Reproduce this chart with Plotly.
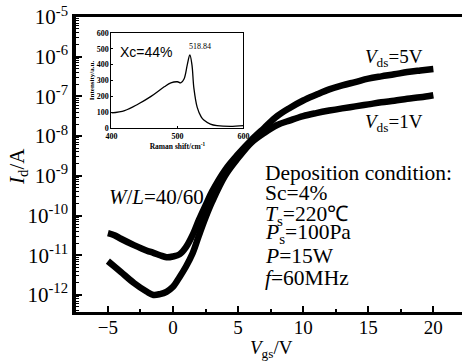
import plotly.graph_objects as go

# Transfer characteristics (Vgs in V, Id in A)
vgs = [-5, -4.5, -4, -3, -2, -1.5, -1, -0.5, 0, 0.5, 1, 1.5, 2, 2.5, 3, 4, 5, 6, 7, 8, 9, 10,
       11, 12, 13, 14, 15, 16, 17, 18, 19, 20]
id_5v = [3.6e-11, 3.2e-11, 2.6e-11, 1.8e-11, 1.3e-11, 1.15e-11, 1.0e-11, 8.9e-12, 9.3e-12, 1.05e-11,
         1.6e-11, 3.2e-11, 7.9e-11, 1.8e-10, 4.0e-10, 1.4e-9, 3.5e-9, 7.9e-9, 1.6e-8, 3.2e-8,
         5.2e-8, 7.9e-8, 1.1e-7, 1.5e-7, 1.9e-7, 2.3e-7, 2.8e-7, 3.2e-7, 3.6e-7, 4.1e-7, 4.5e-7, 4.9e-7]
id_1v = [7.1e-12, 5.2e-12, 3.8e-12, 2.0e-12, 1.2e-12, 1.0e-12, 1.05e-12, 1.2e-12, 1.6e-12, 2.8e-12,
         5.2e-12, 1.1e-11, 3.2e-11, 8.9e-11, 2.2e-10, 1.0e-9, 2.8e-9, 6.8e-9, 1.2e-8, 1.9e-8,
         2.5e-8, 3.2e-8, 3.8e-8, 4.4e-8, 5.0e-8, 5.6e-8, 6.3e-8, 7.1e-8, 7.8e-8, 8.7e-8, 9.5e-8, 1.07e-7]

# Inset Raman spectrum
raman_shift = [400, 420, 440, 460, 480, 490, 500, 505, 510, 515, 518.84, 522, 525, 530, 536, 540,
               550, 560, 580, 600]
raman_int = [95, 110, 150, 200, 260, 285, 292, 285, 310, 400, 462, 400, 250, 130, 70, 50,
             25, 15, 10, 15]

y_tickvals = [1e-12, 1e-11, 1e-10, 1e-9, 1e-8, 1e-7, 1e-6, 1e-5]
y_ticktext = ["10<sup>-12</sup>", "10<sup>-11</sup>", "10<sup>-10</sup>", "10<sup>-9</sup>",
              "10<sup>-8</sup>", "10<sup>-7</sup>", "10<sup>-6</sup>", "10<sup>-5</sup>"]
x_tickvals = [-5, 0, 5, 10, 15, 20]
inset_xticks = [400, 500, 600]
inset_yticks = [0, 100, 200, 300, 400, 500, 600]

SERIF = "Liberation Serif"
BLACK = "black"

fig = go.Figure()
fig.add_trace(go.Scatter(x=vgs, y=id_5v, mode="lines", line=dict(color=BLACK, width=6.5, shape="spline"),
                         showlegend=False))
fig.add_trace(go.Scatter(x=vgs, y=id_1v, mode="lines", line=dict(color=BLACK, width=6.5, shape="spline"),
                         showlegend=False))
fig.add_trace(go.Scatter(x=raman_shift, y=raman_int, mode="lines", xaxis="x2", yaxis="y2",
                         line=dict(color=BLACK, width=1.3, shape="spline"), showlegend=False))

W, H = 468, 364
L, R, T, B = 76, 0, 17, 52

fig.update_layout(
    width=W, height=H,
    margin=dict(l=L, r=R, t=T, b=B),
    paper_bgcolor="white", plot_bgcolor="white",
    font=dict(family=SERIF, color=BLACK),
    xaxis=dict(range=[-7.45, 22.2], showgrid=False, zeroline=False, showline=True, linecolor=BLACK,
               linewidth=3, mirror=True, ticks="inside", ticklen=6, tickwidth=2, tickcolor=BLACK,
               tickvals=x_tickvals, tickfont=dict(size=19, family=SERIF, color=BLACK),
               ticklabelstandoff=-4,
               minor=dict(ticks="inside", ticklen=3, tickwidth=1.5, tickcolor=BLACK, dtick=2.5, tick0=-5)),
    yaxis=dict(type="log", range=[-12.43, -5], showgrid=False, zeroline=False, showline=True,
               linecolor=BLACK, linewidth=3.5, ticks="inside", ticklen=6, tickwidth=2, tickcolor=BLACK,
               tickvals=y_tickvals, ticktext=y_ticktext, tickfont=dict(size=21, family=SERIF, color=BLACK),
               minor=dict(ticks="inside", ticklen=3, tickwidth=1, tickcolor=BLACK, dtick="D1")),
    xaxis2=dict(domain=[0.0918, 0.4337], anchor="y2", range=[400, 600], showgrid=False, zeroline=False,
                showline=True, linecolor=BLACK, linewidth=1, mirror=True, ticks="inside", ticklen=2,
                tickcolor=BLACK, tickvals=inset_xticks,
                tickfont=dict(size=8, family=SERIF, color=BLACK, weight="bold"),
                title=dict(text="<b>Raman shift/cm<sup>-1</sup></b>",
                           font=dict(size=7.5, family=SERIF, color=BLACK), standoff=2)),
    yaxis2=dict(domain=[0.6237, 0.9458], anchor="x2", range=[0, 600], showgrid=False, zeroline=False,
                showline=True, linecolor=BLACK, linewidth=1, mirror=True, ticks="inside", ticklen=2,
                tickcolor=BLACK, tickvals=inset_yticks,
                tickfont=dict(size=8, family=SERIF, color=BLACK, weight="bold"),
                title=dict(text="<b>Intensity/a.u.</b>", font=dict(size=7, family=SERIF, color=BLACK),
                           standoff=1)),
)

def px2paper_x(px):
    return (px - L) / (W - L - R)

def px2paper_y(py):
    return (H - B - py) / (H - T - B)

annos = [
    dict(text="<i>I</i><sub>d</sub>/A", x=px2paper_x(17), y=px2paper_y(166), textangle=-90, size=21),
    dict(text="<i>V</i><sub>gs</sub>/V", x=px2paper_x(275), y=px2paper_y(349), size=19),
    dict(text="<i>V</i><sub>ds</sub>=5V", x=px2paper_x(399), y=px2paper_y(58), size=19),
    dict(text="<i>V</i><sub>ds</sub>=1V", x=px2paper_x(399), y=px2paper_y(123), size=19),
    dict(text="<i>W</i>/<i>L</i>=40/60", x=px2paper_x(158), y=px2paper_y(197), size=21),
]
for a in annos:
    fig.add_annotation(text=a["text"], x=a["x"], y=a["y"], xref="paper", yref="paper", showarrow=False,
                       textangle=a.get("textangle", 0), font=dict(size=a["size"], family=SERIF, color=BLACK),
                       xanchor="center", yanchor="middle")

cond = [("Deposition condition:", 173), ("Sc=4%", 193), ("<i>T</i><sub>s</sub>=220℃", 215),
        ("<i>P</i><sub>s</sub>=100Pa", 234), ("<i>P</i>=15W", 256), ("<i>f</i>=60MHz", 278)]
for txt, py in cond:
    fig.add_annotation(text=txt, x=px2paper_x(266), y=px2paper_y(py), xref="paper", yref="paper",
                       showarrow=False, xanchor="left", yanchor="middle",
                       font=dict(size=21.5, family=SERIF, color=BLACK))

fig.add_annotation(text="Xc=44%", x=px2paper_x(119), y=px2paper_y(52), xref="paper", yref="paper",
                   showarrow=False, xanchor="left", yanchor="middle",
                   font=dict(size=14, family="Liberation Sans", color=BLACK))
fig.add_annotation(text="518.84", x=518.84, y=462, xref="x2", yref="y2", showarrow=False,
                   xanchor="left", yanchor="bottom", xshift=-3, yshift=2,
                   font=dict(size=8, family=SERIF, color=BLACK))

fig.write_html("out.html", config={"displayModeBar": False},
               post_script="document.body.style.margin='0';")
